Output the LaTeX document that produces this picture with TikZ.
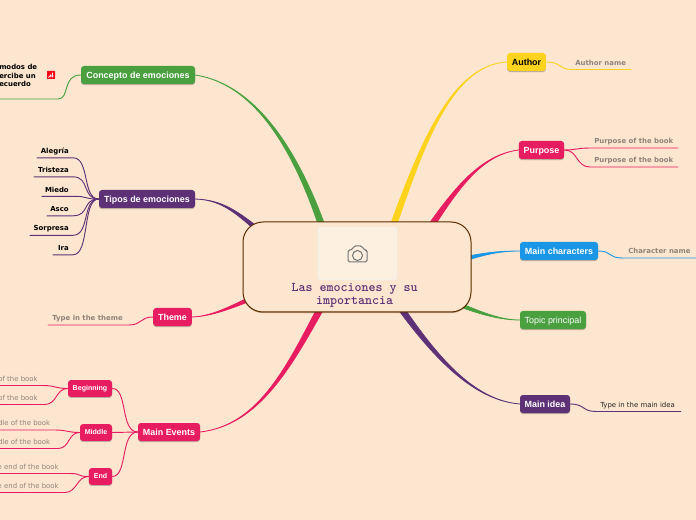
\documentclass[tikz,border=0pt]{standalone}
\usepackage{fontspec}
\setmainfont{Liberation Sans}
\newfontfamily\leaffont{DejaVu Sans}
\usetikzlibrary{calc,backgrounds,shadows}
\definecolor{pagebg}{HTML}{FDE6CF}
\definecolor{rootline}{HTML}{5C2D00}
\definecolor{imgbg}{HTML}{FDF0E1}
\definecolor{grn}{HTML}{4A9F3F}
\definecolor{prp}{HTML}{5E3177}
\definecolor{pnk}{HTML}{E81C60}
\definecolor{ylw}{HTML}{FDD31D}
\definecolor{blu}{HTML}{1A96E6}
\definecolor{leafgray}{HTML}{8F8379}
\tikzset{
  topic/.style={rounded corners=2.2pt,inner sep=0pt,minimum height=13.5pt,text height=6.1pt,text depth=1.1pt,text=white,align=center,
    font=\bfseries\fontsize{6.7}{8}\selectfont,
    general shadow={fill=black,opacity=.25,shadow yshift=-.8pt}},
  subtopic/.style={topic,minimum height=12.6pt,text height=4.6pt,text depth=1pt,font=\bfseries\fontsize{5.3}{7}\selectfont},
  leaf/.style={inner sep=0pt,yshift=-.5pt,text=leafgray,font=\leaffont\bfseries\fontsize{5.2}{6.4}\selectfont},
  leafblack/.style={leaf,text=black},
  leafthin/.style={inner sep=0pt,yshift=-.5pt,text=leafgray,font=\leaffont\fontsize{5.2}{6.4}\selectfont},
  conn/.style={line width=.7pt,line cap=round},
}
% tapered branch that leaves the central box
\newcommand{\taperline}[6]{%
  \filldraw[#1,line width=.6pt,line join=round] (#2) .. controls (#3) and ($(#4)+0.7*(#6)$) .. ($(root)+(#5)+(#6)$)
    -- ($(root)+(#5)-(#6)$) .. controls ($(#4)-0.7*(#6)$) and (#3) .. (#2) -- cycle;}
\begin{document}
\begin{tikzpicture}[x=0.75pt,y=-0.75pt]
  \useasboundingbox (0,0) rectangle (696,520);
  \clip (0,0) rectangle (696,520);
  % centre
  \node[draw=rootline,fill=pagebg,line width=.75pt,rounded corners=15pt,minimum width=171pt,minimum height=67.5pt,inner sep=0pt,
        general shadow={fill=rootline,opacity=.4,shadow yshift=-.8pt}] (root) at (357,267) {};
  \node[fill=imgbg,draw=black!6,line width=.5pt,rounded corners=2pt,minimum width=59pt,minimum height=39.5pt,inner sep=0pt] (img) at (357.5,253.5) {};
  \node[inner sep=0pt,align=center,text=prp,font=\ttfamily\bfseries\fontsize{10}{9.2}\selectfont] (title) at (354.5,295.5) {Las emociones y su\\importancia};
  % camera
  \draw[black!55,line width=.75pt,rounded corners=1.2pt] (348,262) -- (348,250) -- (352,250) -- (354,246) -- (362,246) -- (364,250) -- (367,250) -- (367,262) -- cycle;
  \draw[black!55,line width=.75pt] (357.5,255.5) circle (5);
  \draw[black!55,line width=.5pt] (354.5,252.5) -- (355.5,251.5);
  % main topics
  \node[topic,fill=grn,minimum width=85.5pt] (concepto) at (138,75) {Concepto de emociones};
  \node[topic,fill=prp,minimum width=72pt] (tipos) at (147,199) {Tipos de emociones};
  \node[topic,fill=pnk,minimum width=29pt] (theme) at (172.5,317) {Theme};
  \node[topic,fill=pnk,minimum width=46.5pt] (events) at (169,432) {Main Events};
  \node[topic,fill=ylw,text=black,minimum width=29pt] (author) at (526.5,62) {Author};
  \node[topic,fill=pnk,minimum width=34pt] (purpose) at (541.5,150) {Purpose};
  \node[topic,fill=blu,minimum width=58.5pt] (chars) at (559,251) {Main characters};
  \node[topic,fill=grn,minimum width=49.5pt,font=\fontsize{6.7}{8}\selectfont] (principal) at (553,320) {Topic principal};
  \node[topic,fill=prp,minimum width=37.5pt] (idea) at (545,404) {Main idea};
  \node[subtopic,fill=pnk,minimum width=33pt] (begin) at (90,388.5) {Beginning};
  \node[subtopic,fill=pnk,minimum width=24pt] (middle) at (96,432.5) {Middle};
  \node[subtopic,fill=pnk,minimum width=17.5pt] (ending) at (100.5,476.5) {End};
  % branches from the centre
  \begin{pgfonlayer}{background}
    \fill[pagebg] (0,0) rectangle (696,520);
    \taperline{grn}{concepto.east}{260,85}{300,160}{-32,-32}{3,-1}
    \taperline{prp}{tipos.east}{225,200}{240,215}{-87,-27}{1.2,-2.2}
    \taperline{pnk}{theme.east}{215,316}{235,305}{-97,28}{1,2}
    \taperline{pnk}{events.east}{260,425}{290,365}{-32,33}{3,1.2}
    \taperline{ylw}{author.west}{450,65}{420,150}{33,-32}{3,1}
    \taperline{pnk}{purpose.west}{480,155}{455,190}{68,-32}{2.6,1.6}
    \taperline{blu}{chars.west}{495,251}{480,255}{103,-7}{.5,2}
    \taperline{grn}{principal.west}{500,320}{480,313}{98,36}{-.7,1.8}
    \taperline{prp}{idea.west}{470,400}{430,350}{38,33}{2.6,-1.6}
  \end{pgfonlayer}
  % concepto
  \node[leafblack,anchor=west,align=left] (modos) at (-1,75) {modos de\\ercibe un\\ecuerdo};
  \node[fill=red!75!pnk,minimum size=6pt,inner sep=0pt,rounded corners=.5pt] (flag) at (51,75) {};
  \draw[white,line width=.6pt] (48.4,77.5) -- (50.8,75) -- (50.8,77.5) (52.4,72.6) -- (52.4,77.5) (50.8,76) -- (53.6,76);
  \coordinate (modosa) at (0,99);
  \coordinate (modosb) at (58,99);
  \draw[conn,grn] (modosa) -- (modosb) .. controls (70,99) and (62,75) .. (concepto.west);
  % tipos
  \foreach \nm/\txt/\yy/\xe in {alegria/Alegría/150.5/37,tristeza/Tristeza/169.5/34,miedo/Miedo/189/42,asco/Asco/208.5/47,sorpresa/Sorpresa/228/30,ira/Ira/247.5/53}{
    \node[leafblack,anchor=east] (\nm) at (69,\yy) {\txt};
    \coordinate (\nm a) at (\xe,\yy+7.3);
    \coordinate (\nm b) at (73,\yy+7.3);
    \draw[conn,prp] (\nm a) -- (\nm b) .. controls (90,\yy+7.3) and (82,199) .. (tipos.west);
  }
  % theme
  \node[leaf,anchor=west] (themeleaf) at (52,317.5) {Type in the theme};
  \coordinate (themea) at (48,325);
  \coordinate (themeb) at (129,325);
  \draw[conn,pnk] (themea) -- (themeb) .. controls (142,325) and (140,317) .. (theme.west);
  % main events
  \draw[conn,pnk] (events.west) .. controls (120,432) and (128,388) .. (begin.east);
  \draw[conn,pnk] (events.west) -- (middle.east);
  \draw[conn,pnk] (events.west) .. controls (120,432) and (128,476) .. (ending.east);
  \foreach \nm/\txt/\xt/\yy/\xb/\own in {ba/of the book/38/378/43/begin,bb/of the book/38/397/45/begin,ma/dle of the book/50.5/422.5/55/middle,mb/dle of the book/50.5/441/58/middle,ea/e end of the book/59/466/70/ending,eb/e end of the book/59/485/65/ending}{
    \node[leafthin,anchor=east] (\nm) at (\xt,\yy) {\txt};
    \coordinate (\nm a) at (0,\yy+7.5);
    \coordinate (\nm b) at (\xb,\yy+7.5);
    \draw[conn,pnk] (\nm a) -- (\nm b) .. controls (\xb+12,\yy+7.5) and ($(\own.west)+(-12,0)$) .. (\own.west);
  }
  % right side
  \node[leaf,anchor=west] (authorleaf) at (575,62.5) {Author name};
  \coordinate (authora) at (572,69.5);
  \coordinate (authorb) at (631,69.5);
  \draw[conn,ylw] (author.east) .. controls (562,62) and (558,69.5) .. (authora) -- (authorb);
  \node[leaf,anchor=west] (purposea) at (594,140.5) {Purpose of the book};
  \node[leaf,anchor=west] (purposeb) at (594,159.5) {Purpose of the book};
  \coordinate (pa) at (590,148);
  \coordinate (pb) at (590,167);
  \coordinate (pae) at (678,148);
  \coordinate (pbe) at (678,167);
  \draw[conn,pnk] (purpose.east) .. controls (575,150) and (578,148) .. (pa) -- (pae);
  \draw[conn,pnk] (purpose.east) .. controls (578,150) and (576,167) .. (pb) -- (pbe);
  \node[leaf,anchor=west] (charleaf) at (628,250.5) {Character name};
  \coordinate (chara) at (622,258);
  \coordinate (charb) at (696,258);
  \draw[conn,blu] (chars.east) .. controls (612,251) and (608,258) .. (chara) -- (charb);
  \node[leafthin,anchor=west,text=black!85] (idealeaf) at (600,404.5) {Type in the main idea};
  \coordinate (ideaa) at (596,411.5);
  \coordinate (ideab) at (681,411.5);
  \draw[conn,prp] (idea.east) .. controls (585,404) and (582,411.5) .. (ideaa) -- (ideab);
\end{tikzpicture}
\end{document}
